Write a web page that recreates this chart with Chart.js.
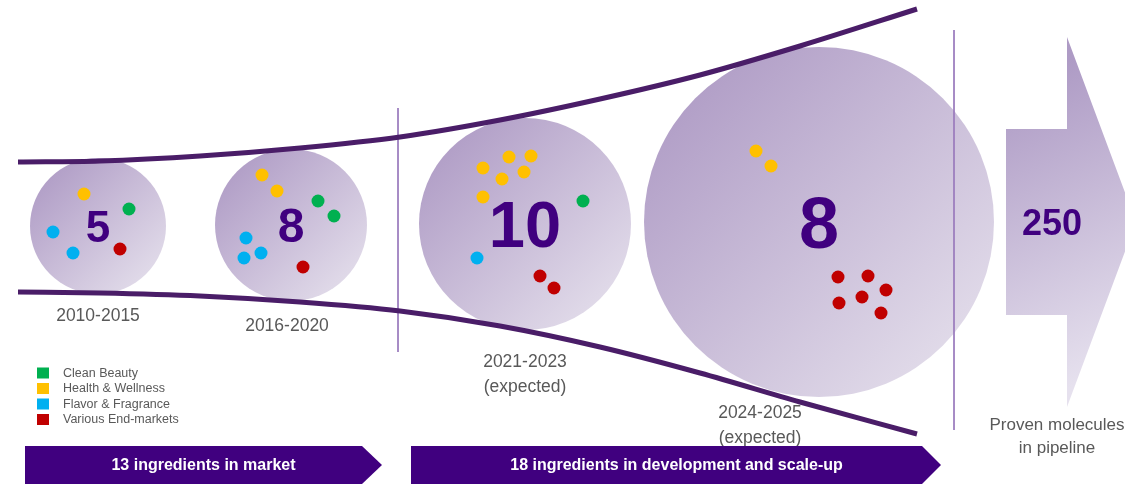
<!DOCTYPE html>
<html>
<head>
<meta charset="utf-8">
<script src="https://cdn.jsdelivr.net/npm/chart.js@4.4.0/dist/chart.umd.min.js"></script>
<style>
  html, body { margin: 0; padding: 0; background: #ffffff; }
  #wrap { width: 1125px; height: 485px; }
</style>
</head>
<body>
<div id="wrap"><canvas id="myChart" width="1125" height="485"></canvas></div>
<script>
//////////////////////////////////////////////////////////////////////////////////
//////////////////////////// DATA ////////////////////////////////////////////////
const stages = ["2010-2015", "2016-2020", "2021-2023", "2024-2025"];
const stageNotes = ["", "", "(expected)", "(expected)"];
const stageCounts = [5, 8, 10, 8];

const categories = ["Clean Beauty", "Health & Wellness", "Flavor & Fragrance", "Various End-markets"];

// one dot per ingredient, placed inside its stage bubble
const cleanBeauty = [[129, 209], [318, 201], [334, 216], [583, 201]];
const healthWellness = [
  [84, 194], [262, 175], [277, 191],
  [483, 168], [509, 157], [531, 156], [502, 179], [524, 172], [483, 197],
  [756, 151], [771, 166]
];
const flavorFragrance = [[53, 232], [73, 253], [246, 238], [261, 253], [244, 258], [477, 258]];
const variousMarkets = [
  [120, 249], [303, 267], [540, 276], [554, 288],
  [838, 277], [868, 276], [886, 290], [839, 303], [862, 297], [881, 313]
];

const pipelineCount = 250;
const pipelineText = ["Proven molecules", "in pipeline"];
const bannerText = ["13 ingredients in market", "18 ingredients in development and scale-up"];

//////////////////////////////////////////////////////////////////////////////////
//////////////////////////// LAYOUT //////////////////////////////////////////////
const bubbleX = [98, 291, 525, 819];
const bubbleY = [226, 225, 224, 222];
const bubbleR = [68, 76, 106, 175];
const numberSize = [44, 48, 65, 72];
const labelX = [98, 287, 525, 760];
const labelY = [316, 326, 362, 413];

// funnel edges
const funnelTop = [[18, 162], [100, 161], [200, 156], [300, 148], [400, 137], [500, 120], [600, 99], [700, 75], [800, 46], [917, 9]];
const funnelBottom = [[18, 292], [100, 293], [200, 296], [300, 302], [400, 311], [500, 326], [600, 347], [700, 373], [800, 402], [917, 434]];
const dividers = [[398, 108, 352], [954, 30, 430]];

const dotColors = ["#00b050", "#ffc000", "#00b0f0", "#c00000"];
const purple = "#40007f";
const grey = "#595959";
const FONT = "Arial, 'Liberation Sans', sans-serif";

//////////////////////////////////////////////////////////////////////////////////
//////////////////////////// DATASETS ////////////////////////////////////////////
const toPoints = (list) => list.map((p) => ({ x: p[0], y: p[1] }));

function bubbleFill(ctx) {
  const chart = ctx.chart;
  const raw = ctx.raw;
  if (!chart.chartArea || !raw) return "#c8bcd7";
  const cx = chart.scales.x.getPixelForValue(raw.x);
  const cy = chart.scales.y.getPixelForValue(raw.y);
  const g = chart.ctx.createLinearGradient(cx - raw.r, cy - raw.r, cx + raw.r, cy + raw.r);
  g.addColorStop(0, "#a994c1");
  g.addColorStop(1, "#e9e5ef");
  return g;
}

const datasets = [];

datasets.push({
  type: "bubble",
  label: "stages",
  data: stages.map((s, i) => ({ x: bubbleX[i], y: bubbleY[i], r: bubbleR[i] })),
  backgroundColor: bubbleFill,
  borderWidth: 0,
  clip: false,
  order: 4,
});

dividers.forEach((d) => {
  datasets.push({
    type: "line",
    data: [{ x: d[0], y: d[1] }, { x: d[0], y: d[2] }],
    borderColor: "#9b7cbd",
    borderWidth: 1,
    pointRadius: 0,
    order: 3,
  });
});

[funnelTop, funnelBottom].forEach((edge) => {
  datasets.push({
    type: "line",
    data: toPoints(edge),
    borderColor: "#4a1d68",
    borderWidth: 5,
    pointRadius: 0,
    cubicInterpolationMode: "monotone",
    order: 2,
  });
});

[cleanBeauty, healthWellness, flavorFragrance, variousMarkets].forEach((dots, i) => {
  datasets.push({
    type: "scatter",
    label: categories[i],
    data: toPoints(dots),
    backgroundColor: dotColors[i],
    borderWidth: 0,
    pointRadius: 6.5,
    order: 1,
  });
});

//////////////////////////////////////////////////////////////////////////////////
//////////////////////////// EXTRA DRAWING ///////////////////////////////////////
function banner(ctx, x0, x1, tip, top, bottom, text) {
  const mid = (top + bottom) / 2;
  ctx.beginPath();
  ctx.moveTo(x0, top);
  ctx.lineTo(x1, top);
  ctx.lineTo(tip, mid);
  ctx.lineTo(x1, bottom);
  ctx.lineTo(x0, bottom);
  ctx.closePath();
  ctx.fillStyle = purple;
  ctx.fill();
  ctx.fillStyle = "#ffffff";
  ctx.font = "bold 16px " + FONT;
  ctx.textAlign = "center";
  ctx.textBaseline = "middle";
  ctx.fillText(text, (x0 + x1) / 2 + 10, mid + 1);
}

const infographic = {
  id: "infographic",
  afterDatasetsDraw(chart) {
    const ctx = chart.ctx;
    const sx = chart.scales.x;
    const sy = chart.scales.y;
    ctx.save();

    // counts in the bubbles
    ctx.fillStyle = purple;
    ctx.textAlign = "center";
    ctx.textBaseline = "alphabetic";
    stageCounts.forEach((n, i) => {
      const size = numberSize[i];
      ctx.font = "bold " + size + "px " + FONT;
      ctx.fillText(String(n), sx.getPixelForValue(bubbleX[i]), sy.getPixelForValue(bubbleY[i]) + size * 0.36);
    });

    // period labels
    ctx.fillStyle = grey;
    ctx.font = "17.5px " + FONT;
    ctx.textBaseline = "middle";
    stages.forEach((s, i) => {
      ctx.fillText(s, labelX[i], labelY[i]);
      if (stageNotes[i]) ctx.fillText(stageNotes[i], labelX[i], labelY[i] + 25);
    });

    // legend
    ctx.textAlign = "left";
    ctx.font = "12.5px " + FONT;
    categories.forEach((c, i) => {
      const y = 373 + i * 15.5;
      ctx.fillStyle = dotColors[i];
      ctx.fillRect(37, y - 5.5, 12, 11);
      ctx.fillStyle = grey;
      ctx.fillText(c, 63, y + 0.5);
    });

    // pipeline arrow
    const g = ctx.createLinearGradient(1005, 90, 1130, 360);
    g.addColorStop(0, "#ae9bc5");
    g.addColorStop(1, "#e6e1ee");
    ctx.beginPath();
    ctx.moveTo(1006, 129);
    ctx.lineTo(1067, 129);
    ctx.lineTo(1067, 37);
    ctx.lineTo(1136, 222);
    ctx.lineTo(1067, 407);
    ctx.lineTo(1067, 315);
    ctx.lineTo(1006, 315);
    ctx.closePath();
    ctx.fillStyle = g;
    ctx.fill();

    ctx.fillStyle = purple;
    ctx.textAlign = "center";
    ctx.textBaseline = "alphabetic";
    ctx.font = "bold 36px " + FONT;
    ctx.fillText(String(pipelineCount), 1052, 222 + 36 * 0.36);

    ctx.fillStyle = grey;
    ctx.font = "17px " + FONT;
    ctx.textBaseline = "middle";
    ctx.fillText(pipelineText[0], 1057, 425);
    ctx.fillText(pipelineText[1], 1057, 448);

    // stage banners
    banner(ctx, 25, 362, 382, 446, 484, bannerText[0]);
    banner(ctx, 411, 922, 941, 446, 484, bannerText[1]);

    ctx.restore();
  },
};

//////////////////////////////////////////////////////////////////////////////////
//////////////////////////// CHART ///////////////////////////////////////////////
const config = {
  type: "scatter",
  data: { datasets: datasets },
  options: {
    responsive: false,
    maintainAspectRatio: false,
    animation: false,
    events: [],
    layout: { padding: 0, autoPadding: false },
    scales: {
      x: { type: "linear", min: 0, max: 1125, display: false },
      y: { type: "linear", min: 0, max: 485, reverse: true, display: false },
    },
    plugins: {
      legend: { display: false },
      tooltip: { enabled: false },
    },
  },
  plugins: [infographic],
};

const myChart = new Chart(document.getElementById("myChart"), config);
</script>
</body>
</html>
